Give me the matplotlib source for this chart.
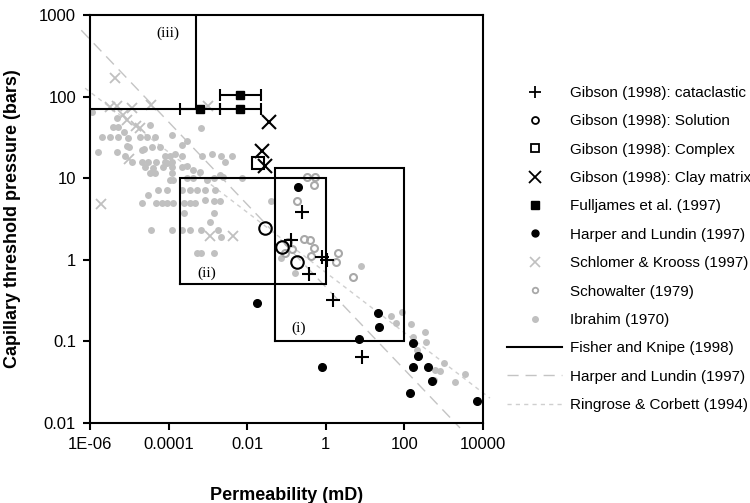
import matplotlib
matplotlib.use("Agg")
import matplotlib.pyplot as plt
from matplotlib.lines import Line2D
from matplotlib.ticker import FixedLocator, NullLocator

plt.rcParams['font.family'] = ['Liberation Sans', 'DejaVu Sans']

# ---- data (permeability mD, pressure bars) ----
cat_k = [0.244, 0.128, 0.787, 1.09, 0.378, 1.55, 8.2]
cat_p = [3.9, 1.77, 1.08, 1.0, 0.67, 0.32, 0.064]

sol_k = [0.0284, 0.0755, 0.182]
sol_p = [2.47, 1.45, 0.95]

cplx_k = [0.0185]
cplx_p = [15.2]

clay_k = [0.0365, 0.0238, 0.0292]
clay_p = [48.4, 21.5, 14.1]

full_k = [6.3e-4, 6.6e-3, 6.6e-3]
full_p = [71, 71, 105]
full_klo = [2e-4, 2e-3, 2e-3]
full_khi = [2e-3, 0.022, 0.022]

harp_k = [0.193, 0.0178, 20.9, 23, 7.0, 0.787, 168, 226, 168, 392, 495, 139, 6900]
harp_p = [7.87, 0.298, 0.225, 0.151, 0.106, 0.049, 0.095, 0.066, 0.049, 0.049,
          0.0327, 0.0235, 0.0188]

schl_k = [4.3e-6, 3.2e-6, 4.8e-6, 1.15e-5, 3.5e-5, 7e-6, 8.6e-6, 1.5e-5, 1.9e-5,
          1.0e-5, 1.03e-3, 1.9e-6, 1.16e-3, 4.3e-3]
schl_p = [171, 75, 77, 72, 79, 60, 52, 44, 41, 17, 77, 4.9, 1.96, 1.96]

schow_k = [0.33, 0.53, 0.49, 0.19, 0.28, 0.40, 0.5, 0.42, 0.111, 0.136, 0.091,
           2.08, 1.87, 5.0]
schow_p = [10.3, 10.3, 8.3, 5.3, 1.8, 1.75, 1.38, 1.13, 1.67, 1.35, 1.22,
           1.22, 0.95, 0.62]

ibr_k = [1.1e-6, 4.8e-6, 3.9e-6, 5.2e-6, 3.4e-5, 6.7e-4, 2.0e-6, 3.2e-6, 5.2e-6,
         7.5e-6, 9.4e-6, 1.9e-5, 2.8e-5, 4.5e-5, 1.2e-4, 2.9e-4, 1.6e-6, 4.8e-6,
         7.8e-6, 1.0e-5, 2.3e-5, 3.7e-5, 6.0e-5, 8.1e-5, 1.1e-4, 1.45e-4, 2.2e-4,
         2.2e-4, 8.6e-6, 2.1e-5, 7.0e-4, 1.25e-3, 2.2e-3, 4.0e-3, 1.15e-5, 2.1e-5,
         3.0e-5, 4.9e-5, 8.1e-5, 1.2e-4, 8.9e-5, 2.5e-5, 4.1e-5, 7.3e-5, 1.2e-4,
         2.2e-4, 2.9e-4, 4.2e-4, 6.3e-4, 2.7e-3, 3.4e-5, 4.5e-5, 1.2e-4, 1.1e-4,
         1.3e-4, 2.9e-4, 4.2e-4, 9.3e-4, 1.4e-3, 2.0e-3, 2.4e-3, 7.5e-3, 5.5e-5,
         9.0e-5, 2.2e-4, 3.5e-4, 5.4e-4, 8.5e-4, 1.5e-3, 3.0e-5, 2.1e-5, 4.9e-5,
         6.6e-5, 9.0e-5, 1.3e-4, 2.4e-4, 3.5e-4, 4.7e-4, 8.5e-4, 1.4e-3, 2.0e-3,
         0.04, 2.4e-4, 1.4e-3, 1.1e-3, 3.5e-5, 1.2e-4, 2.2e-4, 3.5e-4, 6.8e-4,
         1.8e-3, 2.1e-3, 5.2e-4, 6.8e-4, 1.4e-3, 0.165, 0.074, 7.7, 46, 88, 60,
         145, 334, 355, 169, 205, 600, 805, 1000, 1950, 3500, 577]
ibr_p = [65, 55, 43, 43, 45, 41, 32, 32, 32,
         37, 31, 32, 32, 32, 34, 29, 21, 21,
         19, 24.5, 23, 24.5, 24.5, 19, 19, 20, 25.5,
         19, 25, 22, 19, 20, 19, 19, 16, 16,
         16, 16, 16, 16, 15.3, 13.7, 13.3, 13.7, 13.7,
         13.7, 14, 12.6, 12, 16, 11.5, 11.5, 11.5, 9.5,
         9.5, 10, 10, 9.5, 10, 10.9, 10.4, 10, 7.2,
         7.2, 7.2, 7.2, 7.2, 7.2, 7.2, 6.2, 5.0, 5.0,
         5.0, 5.0, 5.0, 5.0, 5.0, 5.0, 5.4, 5.2, 5.2,
         5.2, 3.7, 3.7, 2.9, 2.3, 2.3, 2.3, 2.3, 2.3,
         2.3, 1.9, 1.2, 1.2, 1.2, 0.69, 1.04, 0.83, 0.205, 0.23, 0.17,
         0.163, 0.13, 0.099, 0.114, 0.079, 0.045, 0.043, 0.054, 0.032, 0.04, 0.034]

# Fisher and Knipe (1998) envelopes (i), (ii), (iii)
box1_k = [0.05, 100, 100, 0.05, 0.05]
box1_p = [0.1, 0.1, 13.5, 13.5, 0.1]
box2_k = [2e-4, 1, 1, 2e-4, 2e-4]
box2_p = [0.5, 0.5, 10, 10, 0.5]
box3_k = [1e-6, 5e-4, 5e-4]
box3_p = [70, 70, 1000]

# trend lines (end points)
harpline_k = [6e-7, 2600]
harpline_p = [652, 0.0087]
ringline_k = [7.5e-7, 15000]
ringline_p = [127, 0.0202]

xticks = [1e-6, 1e-4, 1e-2, 1, 100, 10000]
xticklabels = ['1E-06', '0.0001', '0.01', '1', '100', '10000']
yticks = [0.01, 0.1, 1, 10, 100, 1000]
yticklabels = ['0.01', '0.1', '1', '10', '100', '1000']

fig = plt.figure(figsize=(7.5, 5.03), dpi=100)
ax = fig.add_axes([0.12, 0.159, 0.524, 0.811])
ax.set_xscale('log')
ax.set_yscale('log')
ax.set_xlim(1e-6, 1e4)
ax.set_ylim(0.01, 1000)

lgrey = '#c0c0c0'
mgrey = '#a8a8a8'

# trend lines (drawn beyond the frame like the original)
ax.plot(harpline_k, harpline_p, color='#c4c4c4', lw=1.0, ls=(0, (8, 5)), clip_on=False, zorder=1)
ax.plot(ringline_k, ringline_p, color='#cfcfcf', lw=1.0, ls=(0, (3, 3)), clip_on=False, zorder=1)

ax.plot(ibr_k, ibr_p, 'o', ms=5, color=lgrey, mec='none', zorder=2)
ax.plot(schow_k, schow_p, 'o', ms=5, mfc='none', mec=mgrey, mew=1.5, zorder=2)
ax.plot(schl_k, schl_p, 'x', ms=7, color=lgrey, mew=1.3, zorder=2)

# envelopes
for bk, bp in [(box1_k, box1_p), (box2_k, box2_p), (box3_k, box3_p)]:
    ax.plot(bk, bp, color='black', lw=1.5, zorder=3, solid_joinstyle='miter')

# Fulljames with error bars
xerr = [[k - lo for k, lo in zip(full_k, full_klo)],
        [hi - k for k, hi in zip(full_k, full_khi)]]
ax.errorbar(full_k, full_p, xerr=xerr, fmt='s', ms=5.5, color='black',
            ecolor='black', elinewidth=1.5, capsize=4, capthick=1.5, zorder=4)

ax.plot(harp_k, harp_p, 'o', ms=5.5, color='black', zorder=4)
ax.plot(cat_k, cat_p, '+', ms=10, color='black', mew=1.5, zorder=5)
ax.plot(sol_k, sol_p, 'o', ms=9, mfc='none', mec='black', mew=1.5, zorder=5)
ax.plot(cplx_k, cplx_p, 's', ms=9, mfc='none', mec='black', mew=1.5, zorder=5)
ax.plot(clay_k, clay_p, 'x', ms=10, color='black', mew=1.5, zorder=5)

ax.text(0.2, 0.145, '(i)', family='Liberation Serif', fontsize=11, ha='center', va='center')
ax.text(9.3e-4, 0.68, '(ii)', family='Liberation Serif', fontsize=11, ha='center', va='center')
ax.text(9.8e-5, 600, '(iii)', family='Liberation Serif', fontsize=11, ha='center', va='center')

for s in ax.spines.values():
    s.set_linewidth(1.5)
ax.xaxis.set_major_locator(FixedLocator(xticks))
ax.yaxis.set_major_locator(FixedLocator(yticks))
ax.xaxis.set_minor_locator(NullLocator())
ax.yaxis.set_minor_locator(NullLocator())
ax.set_xticklabels(xticklabels)
ax.set_yticklabels(yticklabels)
ax.tick_params(direction='out', length=5, width=1.5, labelsize=12, pad=5)

ax.set_xlabel('Permeability (mD)', fontsize=13, fontweight='bold')
ax.set_ylabel('Capillary threshold pressure (bars)', fontsize=13, fontweight='bold')
ax.xaxis.set_label_coords(0.5, -0.156)
ax.yaxis.set_label_coords(-0.176, 0.5)

handles = [
    Line2D([], [], ls='none', marker='+', ms=8, color='black', mew=1.3),
    Line2D([], [], ls='none', marker='o', ms=5, mfc='none', mec='black', mew=1.3),
    Line2D([], [], ls='none', marker='s', ms=6, mfc='none', mec='black', mew=1.3),
    Line2D([], [], ls='none', marker='x', ms=8, color='black', mew=1.3),
    Line2D([], [], ls='none', marker='s', ms=6, color='black'),
    Line2D([], [], ls='none', marker='o', ms=5, color='black'),
    Line2D([], [], ls='none', marker='x', ms=7, color=lgrey, mew=1.2),
    Line2D([], [], ls='none', marker='o', ms=4, mfc='none', mec=mgrey, mew=1.3),
    Line2D([], [], ls='none', marker='o', ms=4, color=lgrey),
    Line2D([], [], color='black', lw=1.5),
    Line2D([], [], color='#c4c4c4', lw=1.0, ls=(0, (8, 5))),
    Line2D([], [], color='#cfcfcf', lw=1.0, ls=(0, (3, 3))),
]
labels = ['Gibson (1998): cataclastic', 'Gibson (1998): Solution', 'Gibson (1998): Complex',
          'Gibson (1998): Clay matrix', 'Fulljames et al. (1997)', 'Harper and Lundin (1997)',
          'Schlomer & Krooss (1997)', 'Schowalter (1979)', 'Ibrahim (1970)',
          'Fisher and Knipe (1998)', 'Harper and Lundin (1997)', 'Ringrose & Corbett (1994)']
fig.legend(handles, labels, loc='upper left', bbox_to_anchor=(507 / 750, 1 - 86 / 503),
           frameon=False, fontsize=11, handlelength=3.6, handletextpad=0.5,
           labelspacing=0.94, borderpad=0, borderaxespad=0)

fig.savefig('out.png', dpi=100)
